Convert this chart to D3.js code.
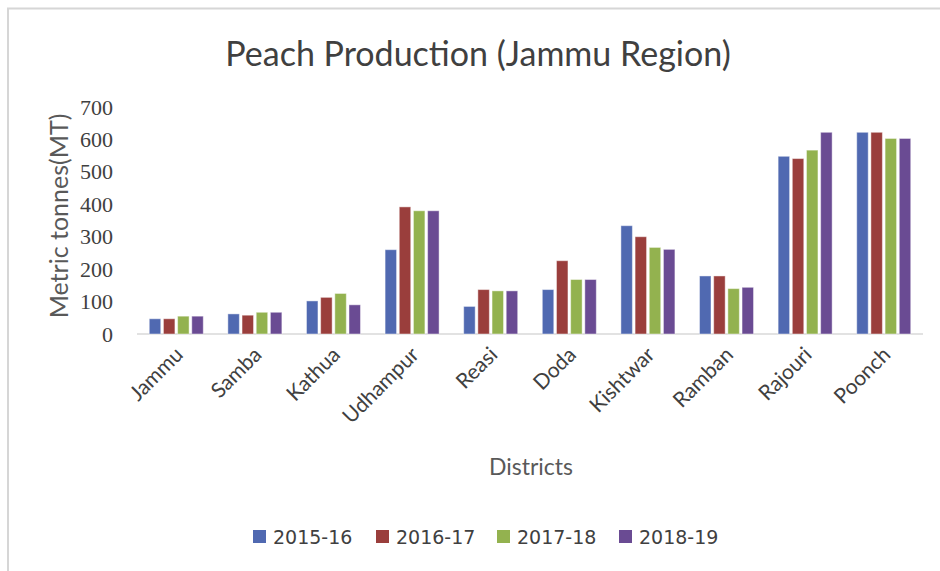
<!DOCTYPE html>
<html>
<head>
<meta charset="utf-8">
<script src="https://cdn.jsdelivr.net/npm/d3@7"></script>
<style>
  body { margin: 0; background: #fff; }
  svg { display: block; }
</style>
</head>
<body>
<script>
const districts = ["Jammu", "Samba", "Kathua", "Udhampur", "Reasi", "Doda", "Kishtwar", "Ramban", "Rajouri", "Poonch"];
const seasons = ["2015-16", "2016-17", "2017-18", "2018-19"];
const v2015 = [47, 62, 102, 260, 85, 137, 334, 179, 548, 622];
const v2016 = [47, 58, 113, 392, 137, 226, 300, 179, 541, 622];
const v2017 = [55, 67, 125, 380, 133, 168, 267, 140, 567, 603];
const v2018 = [55, 67, 90, 380, 133, 168, 261, 144, 622, 603];
const yTicks = [0, 100, 200, 300, 400, 500, 600, 700];
const colors = ["#5069b1", "#9a3e3c", "#93b24f", "#6a4b93"];

const series = [v2015, v2016, v2017, v2018];
const data = districts.map((d, i) => ({
  district: d,
  values: seasons.map((s, j) => ({ season: s, value: series[j][i] }))
}));

const W = 940, H = 571;
const svg = d3.select("body").append("svg")
  .attr("width", W)
  .attr("height", H);

// chart frame (only left and top edges visible)
svg.append("path")
  .attr("d", "M8,571 V8.5 H940")
  .attr("fill", "none")
  .attr("stroke", "#d6d6d6")
  .attr("stroke-width", 2);

// scales
const x0 = d3.scaleBand()
  .domain(districts)
  .range([137, 923])
  .paddingInner(0.313)
  .paddingOuter(0.156);

const x1 = d3.scaleBand()
  .domain(seasons)
  .range([0, x0.bandwidth()])
  .paddingInner(0.19);

const y = d3.scaleLinear()
  .domain([0, 700])
  .range([334, 107]);

// title
svg.append("text")
  .attr("x", 478)
  .attr("y", 66)
  .attr("text-anchor", "middle")
  .style("font-family", "Lato, 'Open Sans', sans-serif")
  .style("font-size", "34px")
  .style("fill", "#404040")
  .text("Peach Production (Jammu Region)");

// y axis
const yAxis = svg.append("g")
  .attr("transform", "translate(113,0)")
  .call(d3.axisLeft(y).tickValues(yTicks).tickSize(0).tickPadding(0));
yAxis.select(".domain").remove();
yAxis.selectAll("text")
  .style("font-family", "'Liberation Serif', serif")
  .style("font-size", "22px")
  .style("fill", "#404040");

// x axis line
svg.append("line")
  .attr("x1", 137)
  .attr("x2", 923)
  .attr("y1", y(0))
  .attr("y2", y(0))
  .attr("stroke", "#d9d9d9")
  .attr("stroke-width", 1.5);

// bars
const groups = svg.selectAll(".group")
  .data(data)
  .enter().append("g")
  .attr("class", "group")
  .attr("transform", d => `translate(${x0(d.district)},0)`);

groups.selectAll("rect")
  .data(d => d.values)
  .enter().append("rect")
  .attr("x", d => x1(d.season))
  .attr("y", d => y(d.value))
  .attr("width", x1.bandwidth())
  .attr("height", d => y(0) - y(d.value))
  .attr("fill", (d, i) => colors[i])
  .attr("stroke", "rgba(255,255,255,0.45)")
  .attr("stroke-width", 1);

// category labels, rotated
svg.selectAll(".xlabel")
  .data(districts)
  .enter().append("text")
  .attr("class", "xlabel")
  .attr("transform", d => `translate(${x0(d) + x0.bandwidth() / 2 + 8},356) rotate(-45)`)
  .attr("text-anchor", "end")
  .style("font-family", "Lato, 'Open Sans', sans-serif")
  .style("font-size", "21px")
  .style("fill", "#404040")
  .text(d => d);

// axis titles
svg.append("text")
  .attr("x", 531)
  .attr("y", 475)
  .attr("text-anchor", "middle")
  .style("font-family", "Lato, 'Open Sans', sans-serif")
  .style("font-size", "23px")
  .style("fill", "#595959")
  .text("Districts");

svg.append("text")
  .attr("transform", "translate(68,216) rotate(-90)")
  .attr("text-anchor", "middle")
  .style("font-family", "Lato, 'Open Sans', sans-serif")
  .style("font-size", "25px")
  .style("fill", "#595959")
  .text("Metric tonnes(MT)");

// legend
const legendX = [253, 376, 497, 619];
const legend = svg.selectAll(".legend")
  .data(seasons)
  .enter().append("g")
  .attr("class", "legend")
  .attr("transform", (d, i) => `translate(${legendX[i]},530)`);

legend.append("rect")
  .attr("width", 13)
  .attr("height", 13)
  .attr("fill", (d, i) => colors[i]);

legend.append("text")
  .attr("x", 20)
  .attr("y", 14)
  .style("font-family", "'DejaVu Sans', sans-serif")
  .style("font-size", "19px")
  .style("fill", "#404040")
  .text(d => d);
</script>
</body>
</html>
